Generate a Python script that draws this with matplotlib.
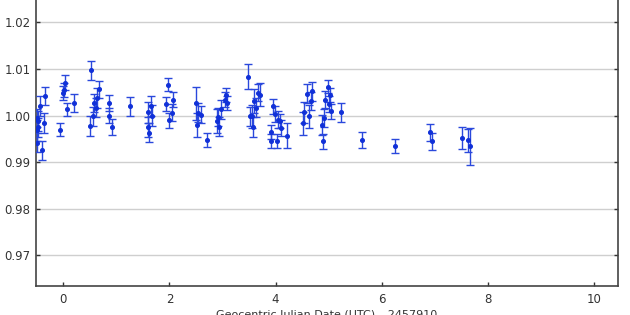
import matplotlib
matplotlib.use('Agg')
import matplotlib.pyplot as plt

# observation times (GJD - 2457910), relative flux and its error
jd = [-0.50, -0.49, -0.485, -0.47, -0.48, -0.43, -0.40, -0.37, -0.34,
      -0.06, 0.00, 0.02, 0.04, 0.07, 0.21,
      0.52, 0.51, 0.57, 0.585, 0.62, 0.64, 0.67,
      0.87, 0.855, 0.92, 1.26,
      1.60, 1.60, 1.62, 1.65, 1.68,
      1.94, 1.975, 2.00, 2.04, 2.07,
      2.51, 2.52, 2.53, 2.60, 2.70,
      2.90, 2.91, 2.94, 2.98, 3.04, 3.06, 3.08,
      3.48, 3.51, 3.56, 3.58, 3.60, 3.64, 3.67, 3.70,
      3.92, 3.92, 3.96, 3.98, 4.03, 4.04, 4.08, 4.11, 4.22,
      4.52, 4.53, 4.60, 4.63, 4.66, 4.69,
      4.88, 4.89, 4.91, 4.94, 4.98, 5.00, 5.02, 5.05, 5.23,
      5.62, 6.25, 6.91, 6.94, 7.52, 7.62, 7.67]
flux = [0.9942, 0.9968, 0.9995, 0.9988, 0.9975, 1.0021, 0.9925, 0.9984, 1.0042,
        0.9970, 1.0049, 1.0054, 1.0070, 1.0013, 1.0027,
        1.0097, 0.9978, 0.9998, 1.0027, 1.0017, 1.0038, 1.0056,
        1.0027, 1.0000, 0.9975, 1.0020,
        1.0007, 0.9975, 0.9963, 1.0020, 1.0000,
        1.0024, 1.0066, 0.9990, 1.0006, 1.0034,
        1.0026, 0.9980, 1.0006, 1.0002, 0.9947,
        0.9988, 0.9997, 0.9976, 1.0013, 1.0034, 1.0045, 1.0027,
        1.0083, 0.9998, 0.9998, 0.9975, 1.0031, 1.0017, 1.0049, 1.0045,
        0.9964, 0.9946, 1.0020, 1.0004, 0.9946, 0.9991, 0.9988, 0.9974, 0.9957,
        0.9983, 1.0007, 1.0047, 0.9998, 1.0031, 1.0052,
        0.9980, 0.9945, 0.9995, 1.0034, 1.0062, 1.0024, 1.0045, 1.0009, 1.0007,
        0.9948, 0.9935, 0.9964, 0.9945, 0.9952, 0.9947, 0.9934]
err = [0.0020, 0.0022, 0.0020, 0.0022, 0.0020, 0.0022, 0.0020, 0.0022, 0.0020,
       0.0013, 0.0015, 0.0015, 0.0016, 0.0015, 0.0020,
       0.0020, 0.0021, 0.0020, 0.0020, 0.0020, 0.0022, 0.0018,
       0.0017, 0.0017, 0.0017, 0.0020,
       0.0023, 0.0021, 0.0020, 0.0021, 0.0022,
       0.0015, 0.0014, 0.0016, 0.0018, 0.0016,
       0.0035, 0.0025, 0.0020, 0.0018, 0.0015,
       0.0026, 0.0020, 0.0020, 0.0020, 0.0016, 0.0015, 0.0016,
       0.0027, 0.0020, 0.0025, 0.0022, 0.0025, 0.0020, 0.0018, 0.0025,
       0.0015, 0.0015, 0.0016, 0.0017, 0.0015, 0.0018, 0.0015, 0.0017, 0.0026,
       0.0025, 0.0023, 0.0020, 0.0024, 0.0020, 0.0020,
       0.0022, 0.0016, 0.0020, 0.0018, 0.0014, 0.0017, 0.0015, 0.0016, 0.0020,
       0.0017, 0.0015, 0.0018, 0.0018, 0.0024, 0.0025, 0.0040]

yticks = [0.97, 0.98, 0.99, 1.00, 1.01, 1.02]
xticks = [0, 2, 4, 6, 8, 10]

fig = plt.figure(figsize=(6.3, 3.15), dpi=100)
ax = fig.add_axes([36 / 630, 29 / 315, 582 / 630, 292 / 315])

ax.errorbar(jd, flux, yerr=err, fmt='o', color='#1030d8', ecolor='#2a48dc',
            markersize=2.6, elinewidth=1.0, capsize=3, capthick=1.0, zorder=3)

ax.set_xlim(-0.513, 10.45)
ax.set_ylim(0.9634, 1.0261)
ax.set_yticks(yticks)
ax.set_yticklabels(['%.2f' % v for v in yticks])
ax.set_xticks(xticks)

ax.grid(axis='y', color='#cfcfcf', linewidth=1.0)
ax.set_axisbelow(True)
ax.tick_params(direction='in', length=3, width=1, colors='#333333',
               labelcolor='#333333', labelsize=8.5, right=True, top=False)
ax.tick_params(axis='y', pad=4)
ax.tick_params(axis='x', pad=5)
for s in ['left', 'bottom', 'right']:
    ax.spines[s].set_color('#444444')
    ax.spines[s].set_linewidth(1.2)
ax.spines['top'].set_visible(False)

ax.set_xlabel('Geocentric Julian Date (UTC) \u2013 2457910', fontsize=8, color='#333333', labelpad=3)
ax.set_ylabel('Relative Flux', fontsize=8, color='#333333')
ax.yaxis.set_label_coords(-0.075, 0.5)

plt.savefig('out.png', dpi=100)
